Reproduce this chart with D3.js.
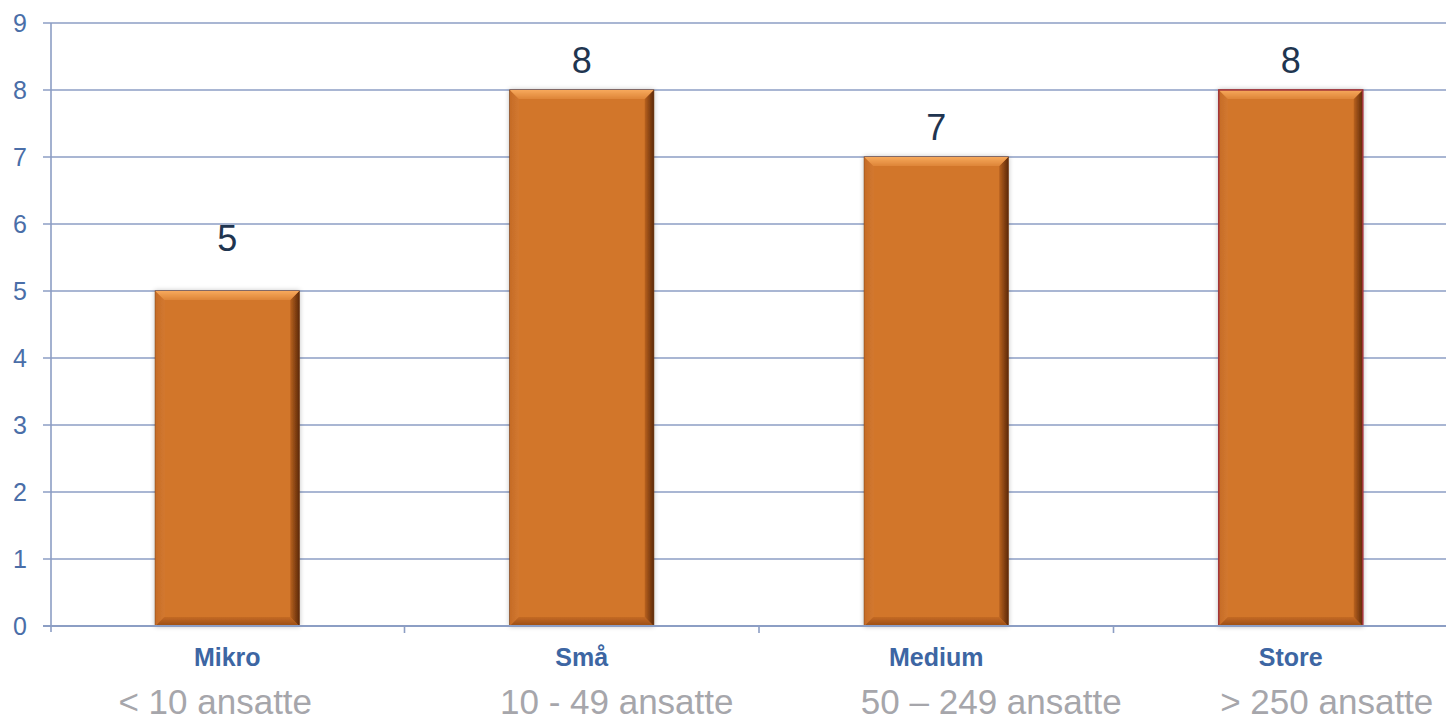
<!DOCTYPE html>
<html>
<head>
<meta charset="utf-8">
<script src="https://cdn.jsdelivr.net/npm/d3@7"></script>
<style>
  body { margin: 0; background: #fff; }
  svg { display: block; font-family: Arial, "Liberation Sans", sans-serif; }
</style>
</head>
<body>
<div id="chart"></div>
<script>
// data
var categories = ["Mikro", "Små", "Medium", "Store"];
var subLabels = ["< 10 ansatte", "10 - 49 ansatte", "50 – 249 ansatte", "> 250 ansatte"];
var values = [5, 8, 7, 8];
var yTicks = [0, 1, 2, 3, 4, 5, 6, 7, 8, 9];

var svgWidth = 1446;
var svgHeight = 723;

var svg = d3.select("#chart")
    .append("svg")
    .attr("width", svgWidth)
    .attr("height", svgHeight);

// scales
var x = d3.scaleBand()
    .domain(categories)
    .range([50, 1468])
    .padding(0);
var y = d3.scaleLinear()
    .domain([0, 9])
    .range([626, 23]);

var barW = x.bandwidth() * 0.406;

// gridlines
svg.append("g")
    .selectAll("line")
    .data(yTicks)
    .enter()
    .append("line")
    .attr("x1", 43)
    .attr("x2", svgWidth)
    .attr("y1", d => y(d))
    .attr("y2", d => y(d))
    .attr("stroke", "#8c9ec4")
    .attr("stroke-width", 1.6);

// y axis
var yAxis = d3.axisLeft(y).tickValues(yTicks).tickSize(0).tickPadding(24);
var yg = svg.append("g")
    .attr("transform", "translate(51,0)")
    .call(yAxis);
yg.select(".domain").remove();
yg.selectAll("text")
    .attr("font-size", "25px")
    .attr("fill", "#4a6ea8")
    .attr("font-family", "Arial, 'Liberation Sans', sans-serif");

svg.append("line")
    .attr("x1", 51).attr("x2", 51)
    .attr("y1", y(9)).attr("y2", y(0) + 6)
    .attr("stroke", "#8c9ec4")
    .attr("stroke-width", 1.6);

// bottom tick marks at band edges
svg.append("g")
    .selectAll("line")
    .data(categories.slice(1))
    .enter()
    .append("line")
    .attr("x1", d => x(d))
    .attr("x2", d => x(d))
    .attr("y1", y(0))
    .attr("y2", y(0) + 7)
    .attr("stroke", "#8c9ec4")
    .attr("stroke-width", 1.6);

// gradients
var defs = svg.append("defs");
var gTop = defs.append("linearGradient").attr("id", "gTop").attr("x1", 0).attr("y1", 0).attr("x2", 0).attr("y2", 1);
gTop.append("stop").attr("offset", "0%").attr("stop-color", "#f7a95c");
gTop.append("stop").attr("offset", "100%").attr("stop-color", "#de8538");
var gRight = defs.append("linearGradient").attr("id", "gRight").attr("x1", 0).attr("y1", 0).attr("x2", 1).attr("y2", 0);
gRight.append("stop").attr("offset", "0%").attr("stop-color", "#b9621f");
gRight.append("stop").attr("offset", "100%").attr("stop-color", "#5e2a08");
var gBot = defs.append("linearGradient").attr("id", "gBot").attr("x1", 0).attr("y1", 0).attr("x2", 0).attr("y2", 1);
gBot.append("stop").attr("offset", "0%").attr("stop-color", "#c46a25");
gBot.append("stop").attr("offset", "100%").attr("stop-color", "#9a4d14");
var gLeft = defs.append("linearGradient").attr("id", "gLeft").attr("x1", 0).attr("y1", 0).attr("x2", 1).attr("y2", 0);
gLeft.append("stop").attr("offset", "0%").attr("stop-color", "#c56b26");
gLeft.append("stop").attr("offset", "100%").attr("stop-color", "#d27830");

var shadow = defs.append("filter").attr("id", "shadow").attr("x", "-10%").attr("y", "-5%").attr("width", "120%").attr("height", "110%");
shadow.append("feGaussianBlur").attr("in", "SourceAlpha").attr("stdDeviation", 2.5);
shadow.append("feOffset").attr("dx", 0).attr("dy", 0).attr("result", "b");
shadow.append("feComponentTransfer").append("feFuncA").attr("type", "linear").attr("slope", 0.25);
var merge = shadow.append("feMerge");
merge.append("feMergeNode");
merge.append("feMergeNode").attr("in", "SourceGraphic");

// bars
var bev = 9;
var bars = svg.append("g")
    .selectAll("g")
    .data(categories)
    .enter()
    .append("g")
    .attr("filter", "url(#shadow)");

bars.append("rect")
    .attr("x", (d, i) => x(d) + (x.bandwidth() - barW) / 2)
    .attr("y", (d, i) => y(values[i]))
    .attr("width", barW)
    .attr("height", (d, i) => y(0) - y(values[i]))
    .attr("fill", "#d2762c")
    .attr("stroke", (d, i) => i === 3 ? "#a3363a" : "#6b3510")
    .attr("stroke-width", 1);

function bevel(d, i, side) {
    var x0 = x(d) + (x.bandwidth() - barW) / 2, x1 = x0 + barW;
    var y0 = y(values[i]), y1 = y(0);
    if (side === "top") return [[x0, y0], [x1, y0], [x1 - bev, y0 + bev], [x0 + bev, y0 + bev]];
    if (side === "right") return [[x1, y0], [x1, y1], [x1 - bev, y1 - bev], [x1 - bev, y0 + bev]];
    if (side === "bottom") return [[x0, y1], [x1, y1], [x1 - bev, y1 - bev], [x0 + bev, y1 - bev]];
    return [[x0, y0], [x0, y1], [x0 + bev, y1 - bev], [x0 + bev, y0 + bev]];
}
["left", "bottom", "right", "top"].forEach(function(side) {
    var fill = side === "top" ? "url(#gTop)" : side === "right" ? "url(#gRight)" : side === "bottom" ? "url(#gBot)" : "url(#gLeft)";
    bars.append("polygon")
        .attr("points", (d, i) => bevel(d, i, side).map(p => p.join(",")).join(" "))
        .attr("fill", fill);
});
bars.append("rect")
    .attr("x", (d, i) => x(d) + (x.bandwidth() - barW) / 2)
    .attr("y", (d, i) => y(values[i]))
    .attr("width", barW)
    .attr("height", (d, i) => y(0) - y(values[i]))
    .attr("fill", "none")
    .attr("stroke", (d, i) => i === 3 ? "#a3363a" : "none")
    .attr("stroke-width", 1.5);

// zero line over bars
svg.append("line")
    .attr("x1", 43).attr("x2", svgWidth)
    .attr("y1", y(0)).attr("y2", y(0))
    .attr("stroke", "#8c9ec4")
    .attr("stroke-width", 1.8);

// value labels (first one sits higher in the original)
var labelGap = [40, 17, 17, 17];
svg.append("g")
    .selectAll("text")
    .data(categories)
    .enter()
    .append("text")
    .attr("x", d => x(d) + x.bandwidth() / 2)
    .attr("y", (d, i) => y(values[i]) - labelGap[i])
    .attr("text-anchor", "middle")
    .attr("font-size", "36px")
    .attr("fill", "#1f3550")
    .text((d, i) => values[i]);

// category labels
svg.append("g")
    .selectAll("text")
    .data(categories)
    .enter()
    .append("text")
    .attr("x", d => x(d) + x.bandwidth() / 2)
    .attr("y", 666)
    .attr("text-anchor", "middle")
    .attr("font-size", "25px")
    .attr("font-weight", "bold")
    .attr("fill", "#3d66a3")
    .text(d => d);

// sub labels (separate text boxes, offset from band centre)
var subOffset = [-12, 35, 55, 36];
svg.append("g")
    .selectAll("text")
    .data(categories)
    .enter()
    .append("text")
    .attr("x", (d, i) => x(d) + x.bandwidth() / 2 + subOffset[i])
    .attr("y", 714)
    .attr("text-anchor", "middle")
    .attr("font-size", "35px")
    .attr("fill", "#a6a6ab")
    .text((d, i) => subLabels[i]);
</script>
</body>
</html>
